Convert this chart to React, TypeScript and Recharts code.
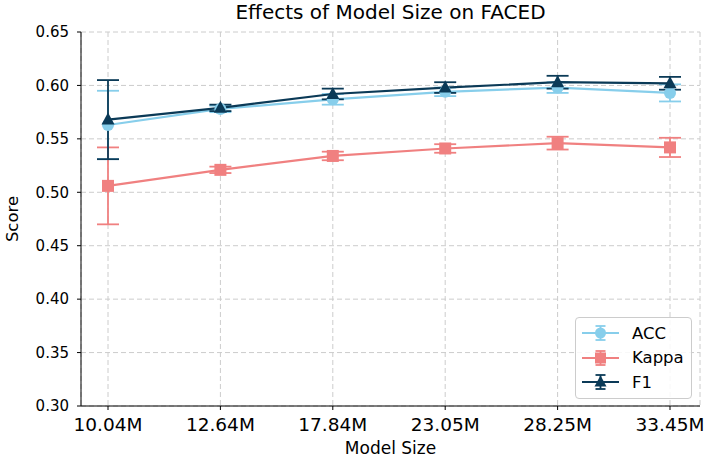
import React from 'react';
import {
  LineChart, Line, XAxis, YAxis, CartesianGrid, ErrorBar, Legend,
} from 'recharts';

const sizes = ['10.04M', '12.64M', '17.84M', '23.05M', '28.25M', '33.45M'];
const acc = [0.563, 0.578, 0.587, 0.594, 0.598, 0.593];
const accErr = [0.032, 0.003, 0.005, 0.004, 0.005, 0.008];
const kappa = [0.506, 0.521, 0.534, 0.541, 0.546, 0.542];
const kappaErr = [0.036, 0.003, 0.004, 0.004, 0.006, 0.009];
const f1 = [0.568, 0.579, 0.592, 0.598, 0.603, 0.602];
const f1Err = [0.037, 0.003, 0.005, 0.005, 0.006, 0.006];
const yTicks = [0.3, 0.35, 0.4, 0.45, 0.5, 0.55, 0.6, 0.65];

const C_ACC = '#87CEEB';
const C_KAPPA = '#F08080';
const C_F1 = '#0B3A57';
const FONT = '"DejaVu Sans", sans-serif';

const data = sizes.map((s, i) => ({
  size: s,
  acc: acc[i], accErr: accErr[i],
  kappa: kappa[i], kappaErr: kappaErr[i],
  f1: f1[i], f1Err: f1Err[i],
}));

const circleDot = (p: any) => (
  <circle key={p.key} cx={p.cx} cy={p.cy} r={6} fill={C_ACC} />
);
const squareDot = (p: any) => (
  <rect key={p.key} x={p.cx - 6} y={p.cy - 6} width={12} height={12} fill={C_KAPPA} />
);
const triDot = (p: any) => (
  <polygon key={p.key} points={`${p.cx},${p.cy - 7} ${p.cx - 6.5},${p.cy + 5} ${p.cx + 6.5},${p.cy + 5}`} fill={C_F1} />
);

const legendItems = [
  { name: 'ACC', color: C_ACC, shape: 'circle' },
  { name: 'Kappa', color: C_KAPPA, shape: 'square' },
  { name: 'F1', color: C_F1, shape: 'tri' },
];

const LegendBox = () => (
  <div style={{
    border: '1px solid #cccccc', borderRadius: 4, background: 'rgba(255,255,255,0.85)',
    padding: '3px 6px 3px 6px', fontFamily: FONT, fontSize: 16.5, width: 103, boxSizing: 'content-box',
  }}>
    {legendItems.map((it) => (
      <div key={it.name} style={{ display: 'flex', alignItems: 'center', height: 24.5 }}>
        <svg width={38} height={20} style={{ marginRight: 12, flexShrink: 0 }}>
          <line x1={0} x2={37} y1={10} y2={10} stroke={it.color} strokeWidth={2.2} />
          <line x1={18.5} x2={18.5} y1={3} y2={17} stroke={it.color} strokeWidth={1.8} />
          <line x1={13.5} x2={23.5} y1={3} y2={3} stroke={it.color} strokeWidth={1.8} />
          <line x1={13.5} x2={23.5} y1={17} y2={17} stroke={it.color} strokeWidth={1.8} />
          {it.shape === 'circle' && <circle cx={18.5} cy={10} r={5.5} fill={it.color} />}
          {it.shape === 'square' && <rect x={13} y={4.5} width={11} height={11} fill={it.color} />}
          {it.shape === 'tri' && <polygon points="18.5,3.5 12.5,14.5 24.5,14.5" fill={it.color} />}
        </svg>
        <span style={{ color: '#000' }}>{it.name}</span>
      </div>
    ))}
  </div>
);

export default function App() {
  return (
    <div style={{ position: 'absolute', left: 0, top: 0, width: 707, height: 459, background: '#fff' }}>
      <div style={{
        position: 'absolute', left: 81, width: 619, top: 0, textAlign: 'center',
        fontFamily: FONT, fontSize: 20, color: '#000',
      }}>
        Effects of Model Size on FACED
      </div>
      <LineChart
        width={707}
        height={459}
        data={data}
        margin={{ top: 32, right: 7, bottom: 23, left: 21 }}
        style={{ fontFamily: FONT }}
      >
        <CartesianGrid stroke="#cccccc" strokeDasharray="5 3" />
        <XAxis
          dataKey="size"
          padding={{ left: 27, right: 30 }}
          height={30}
          tickSize={4}
          tickMargin={8}
          tick={{ fill: '#000', fontSize: 18.5 }}
          axisLine={{ stroke: '#000' }}
          tickLine={{ stroke: '#000' }}
          label={{ value: 'Model Size', position: 'insideBottom', offset: -18, fill: '#000', fontSize: 17 }}
        />
        <XAxis xAxisId="top" orientation="top" dataKey="size" height={0} tick={false} tickLine={false} axisLine={{ stroke: '#000' }} />
        <YAxis
          domain={[0.3, 0.65]}
          ticks={yTicks}
          width={60}
          tickSize={4}
          tickMargin={8}
          tickFormatter={(v: number) => v.toFixed(2)}
          tick={{ fill: '#000', fontSize: 15 }}
          axisLine={{ stroke: '#000' }}
          tickLine={{ stroke: '#000' }}
          label={{ value: 'Score', angle: -90, position: 'insideLeft', offset: -9, fill: '#000', fontSize: 16.5, style: { textAnchor: 'middle' } }}
        />
        <YAxis yAxisId="right" orientation="right" domain={[0.3, 0.65]} width={0} tick={false} tickLine={false} axisLine={{ stroke: '#000' }} />
        <Line dataKey="acc" name="ACC" stroke={C_ACC} strokeWidth={2.2} dot={circleDot} activeDot={false} isAnimationActive={false}>
          <ErrorBar dataKey="accErr" direction="y" width={11} stroke={C_ACC} strokeWidth={1.8} />
        </Line>
        <Line dataKey="kappa" name="Kappa" stroke={C_KAPPA} strokeWidth={2.2} dot={squareDot} activeDot={false} isAnimationActive={false}>
          <ErrorBar dataKey="kappaErr" direction="y" width={11} stroke={C_KAPPA} strokeWidth={1.8} />
        </Line>
        <Line dataKey="f1" name="F1" stroke={C_F1} strokeWidth={2.2} dot={triDot} activeDot={false} isAnimationActive={false}>
          <ErrorBar dataKey="f1Err" direction="y" width={11} stroke={C_F1} strokeWidth={1.8} />
        </Line>
        <Legend
          content={<LegendBox />}
          layout="vertical"
          verticalAlign="middle"
          align="center"
          wrapperStyle={{ left: 575, top: 317, width: 'auto' }}
        />
      </LineChart>
    </div>
  );
}
